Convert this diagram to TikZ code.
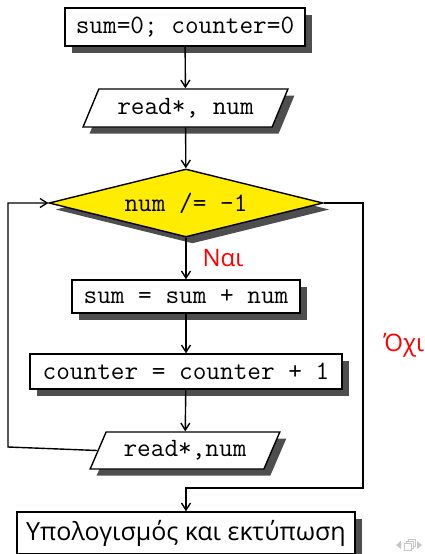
\documentclass[tikz,border=0pt]{standalone}
\usepackage{fontspec}
\newfontfamily\grsans{Open Sans}
\usetikzlibrary{shapes.geometric,arrows.meta}
\definecolor{dyellow}{RGB}{255,236,0}
\definecolor{shad}{RGB}{78,78,78}
\begin{document}
\begin{tikzpicture}[x=1pt,y=-1pt,
  line width=1.4pt,
  shdw/.style={preaction={fill=shad,draw=none,transform canvas={shift={(6.5pt,-6.5pt)}}}},
  procbox/.style={draw,fill=white,shdw,inner sep=0pt,font=\ttfamily\fontsize{26.5}{30}\selectfont},
  iobox/.style={trapezium,trapezium stretches=true,trapezium left angle=58,trapezium right angle=122,draw,fill=white,shdw,inner sep=0pt,font=\ttfamily\fontsize{26.5}{30}\selectfont},
  decbox/.style={diamond,aspect=4.03,draw,fill=dyellow,shdw,inner sep=0pt,font=\ttfamily\fontsize{26.5}{30}\selectfont},
  flow/.style={-{Straight Barb[length=7pt,width=9pt]}},
  lab/.style={text=red,font=\grsans\fontsize{24}{28}\selectfont}
]
\useasboundingbox (0,0) rectangle (424,554);
\node[procbox,minimum width=240pt,minimum height=38pt] (b1) at (185,27) {sum=0; counter=0};
\node[iobox,minimum width=205pt,minimum height=38pt] (p1) at (185.5,108) {read*, num};
\node[decbox,minimum width=274pt,minimum height=68pt] (d) at (186,203) {num /= -1};
\node[procbox,minimum width=228pt,minimum height=33pt] (b2) at (186,296.5) {sum = sum + num};
\node[procbox,minimum width=312pt,minimum height=35pt] (b3) at (186,371.5) {counter = counter + 1};
\node[iobox,minimum width=190pt,minimum height=37pt] (p2) at (185,450.5) {read*,num};
\node[procbox,minimum width=338pt,minimum height=42pt,font=\grsans\fontsize{25}{29}\selectfont] (b5) at (186,533) {Υπολογισμός και εκτύπωση};
\coordinate (lx) at (8,447);
\coordinate (r) at (363,488);
\draw[flow] (b1) -- (p1);
\draw[flow] (p1) -- (d);
\draw[flow] (d) -- (b2);
\draw[flow] (b2) -- (b3);
\draw[flow] (b3) -- (p2);
\draw[flow] (p2.west) -- (lx) |- (d.west);
\draw[flow] (d.east) -| (r) -| (b5.north);
\node[lab] (yes) at (223,258) {Ναι};
\node[lab] (no) at (404,345) {Όχι};
% navigation symbols
\fill[gray!45] (401,541) -- (396,545) -- (401,549) -- cycle;
\fill[gray!45] (417,541) -- (422,545) -- (417,549) -- cycle;
\draw[gray!45,line width=0.8pt] (404,543) rectangle (411,550) (406,543) -- (406,541) -- (413,541) -- (413,548) -- (411,548) (408,541) -- (408,539) -- (415,539) -- (415,546) -- (413,546);
\end{tikzpicture}
\end{document}
